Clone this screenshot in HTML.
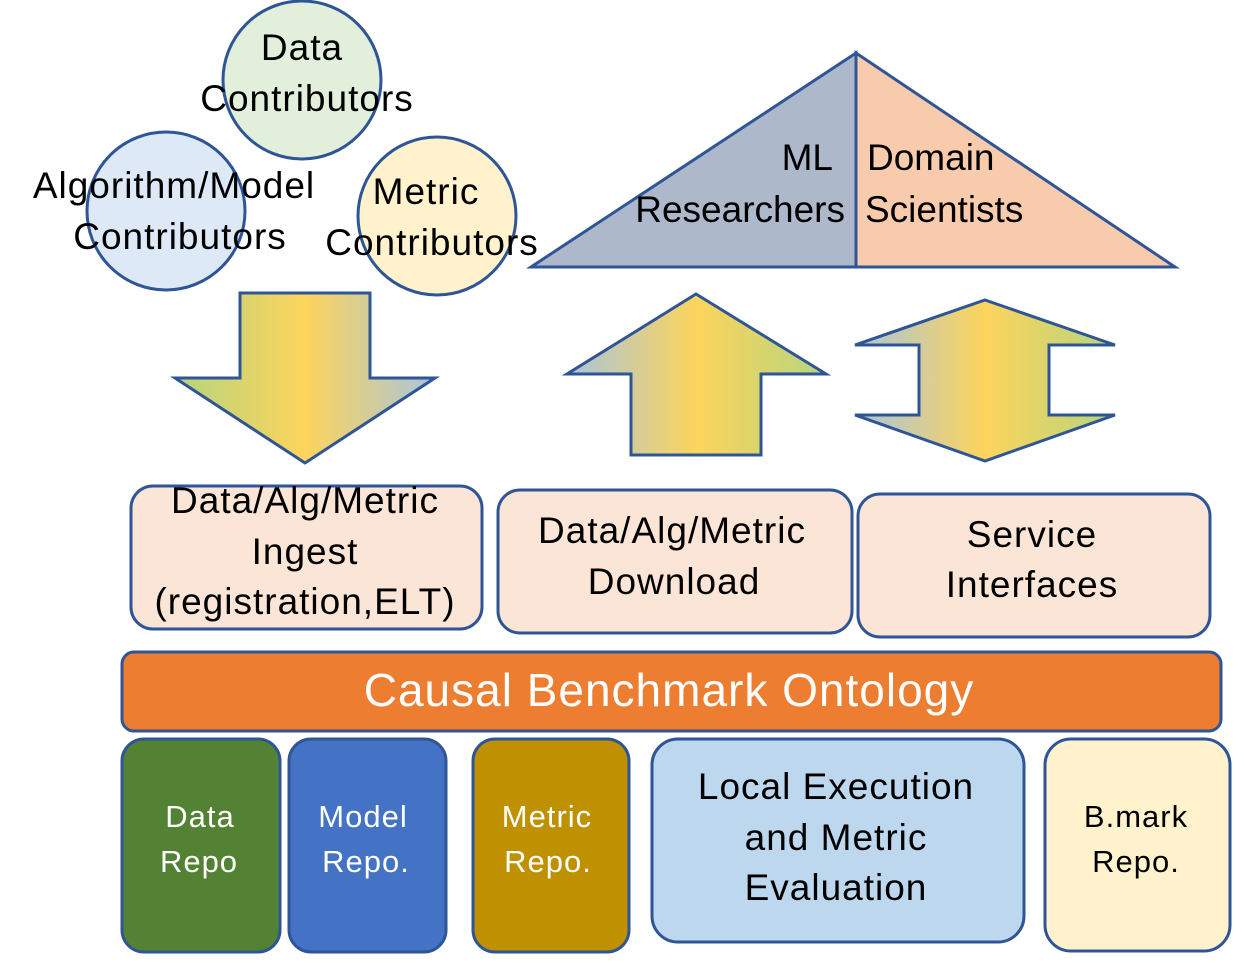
<!DOCTYPE html>
<html><head><meta charset="utf-8"><style>
html,body{margin:0;padding:0;background:#fff}
svg{display:block}
text{font-family:"Liberation Sans",sans-serif;letter-spacing:1px}
</style></head><body>
<svg width="1245" height="963" viewBox="0 0 1245 963" xmlns="http://www.w3.org/2000/svg">
<defs>
<linearGradient id="gd" x1="0" x2="1" y1="0" y2="0">
<stop offset="0" stop-color="#b5d57e"/><stop offset="0.5" stop-color="#fdd45c"/><stop offset="1" stop-color="#a9c5da"/></linearGradient>
<linearGradient id="gu" x1="0" x2="1" y1="0" y2="0">
<stop offset="0" stop-color="#a9c5da"/><stop offset="0.5" stop-color="#fdd45c"/><stop offset="1" stop-color="#b5d57e"/></linearGradient>
</defs>
<g stroke="#2f5597" stroke-width="3">
<circle cx="302" cy="80" r="79" fill="#e2efda"/>
<circle cx="166" cy="211" r="79" fill="#dde9f6"/>
<circle cx="437" cy="216" r="79" fill="#fff2cc"/>
<polygon points="531,267 856,53 856,267" fill="#adb9ca"/>
<polygon points="856,53 1175,267 856,267" fill="#f8cbad"/>
<polygon points="240,293 370,293 370,378 435,378 305,463 175,378 240,378" fill="url(#gd)"/>
<polygon points="696,294 826,374 761,374 761,455 631,455 631,374 567,374" fill="url(#gu)"/>
<polygon points="985,300 1115,345 1049,345 1049,415 1115,415 985,461 855,415 919,415 919,345 855,345" fill="url(#gu)"/>
<rect x="131" y="486" width="351" height="143" rx="22" fill="#fbe5d6"/>
<rect x="498" y="490" width="354" height="143" rx="22" fill="#fbe5d6"/>
<rect x="858" y="494" width="352" height="143" rx="22" fill="#fbe5d6"/>
<rect x="122" y="652" width="1099" height="79" rx="12" fill="#ed7d31"/>
<rect x="122" y="739" width="158" height="213" rx="22" fill="#548235"/>
<rect x="289" y="739" width="157" height="213" rx="22" fill="#4472c4"/>
<rect x="473" y="739" width="156" height="213" rx="22" fill="#bf9000"/>
<rect x="652" y="739" width="372" height="203" rx="26" fill="#bdd7ee"/>
<rect x="1045" y="739" width="185" height="212" rx="26" fill="#fff2cc"/>
</g>
<g font-size="37" fill="#000" text-anchor="middle">
<text x="302" y="60">Data</text>
<text x="307" y="111">Contributors</text>
<text x="174" y="198">Algorithm/Model</text>
<text x="180" y="249">Contributors</text>
<text x="426" y="204">Metric</text>
<text x="432" y="255">Contributors</text>
<text x="833" y="170" text-anchor="end" style="letter-spacing:0">ML</text>
<text x="845" y="222" text-anchor="end" style="letter-spacing:0">Researchers</text>
<text x="867" y="170" text-anchor="start" style="letter-spacing:0">Domain</text>
<text x="865" y="222" text-anchor="start" style="letter-spacing:0">Scientists</text>
<text x="305" y="513">Data/Alg/Metric</text>
<text x="305" y="564">Ingest</text>
<text x="305" y="614">(registration,ELT)</text>
<text x="672" y="543">Data/Alg/Metric</text>
<text x="674" y="594">Download</text>
<text x="1032" y="547">Service</text>
<text x="1032" y="597">Interfaces</text>
<text x="669" y="706" font-size="46" fill="#fff">Causal Benchmark Ontology</text>
<text x="200" y="827" font-size="31" fill="#fff">Data</text>
<text x="199" y="872" font-size="31" fill="#fff">Repo</text>
<text x="363" y="827" font-size="31" fill="#fff">Model</text>
<text x="366" y="872" font-size="31" fill="#fff">Repo.</text>
<text x="547" y="827" font-size="31" fill="#fff">Metric</text>
<text x="548" y="872" font-size="31" fill="#fff">Repo.</text>
<text x="836" y="799">Local Execution</text>
<text x="836" y="850">and Metric</text>
<text x="836" y="900">Evaluation</text>
<text x="1136" y="827" font-size="31">B.mark</text>
<text x="1136" y="872" font-size="31">Repo.</text>
</g>
</svg>
</body></html>
